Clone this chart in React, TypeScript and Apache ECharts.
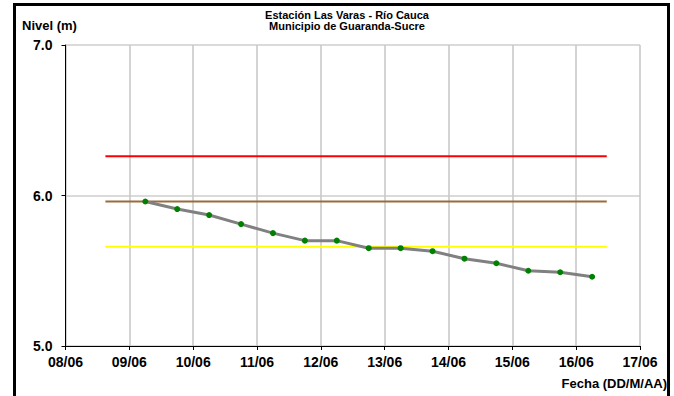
import React, { useEffect, useRef } from "react";
import * as echarts from "echarts";

const xTickLabels = ["08/06", "09/06", "10/06", "11/06", "12/06", "13/06", "14/06", "15/06", "16/06", "17/06"];
const yTicks = [5, 6, 7];

const obsTimes = [
  "09/06 06:00", "09/06 18:00", "10/06 06:00", "10/06 18:00", "11/06 06:00",
  "11/06 18:00", "12/06 06:00", "12/06 18:00", "13/06 06:00", "13/06 18:00",
  "14/06 06:00", "14/06 18:00", "15/06 06:00", "15/06 18:00", "16/06 06:00",
];
const levels = [5.96, 5.91, 5.87, 5.81, 5.75, 5.7, 5.7, 5.65, 5.65, 5.63, 5.58, 5.55, 5.5, 5.49, 5.46];

const thresholdNames = ["Roja", "Naranja", "Amarilla"];
const thresholdValues = [6.26, 5.96, 5.66];
const thresholdColors = ["#ff0000", "#9c6b3c", "#ffff00"];
const thresholdSpan = ["08/06 15:00", "16/06 11:30"];

const titleLines = ["Estación Las Varas - Río Cauca", "Municipio de Guaranda-Sucre"];
const yName = "Nivel (m)";
const xName = "Fecha (DD/M/AA)";

const FONT = "'Liberation Sans', Arial, sans-serif";

function toDay(s: string): number {
  const [d, t] = s.split(" ");
  const day = parseInt(d.split("/")[0], 10) - 8;
  const [h, m] = t.split(":").map(Number);
  return day + (h + m / 60) / 24;
}

export default function App() {
  const ref = useRef<HTMLDivElement>(null);
  useEffect(() => {
    if (!ref.current) return;
    const chart = echarts.init(ref.current, null, { renderer: "svg" });
    const thresholdSeries = thresholdValues.map((v, i) => ({
      name: thresholdNames[i],
      type: "line",
      data: thresholdSpan.map((t) => [toDay(t), v]),
      symbol: "none",
      lineStyle: { color: thresholdColors[i], width: 2 },
      z: 2,
    }));
    chart.setOption({
      animation: false,
      backgroundColor: "#ffffff",
      textStyle: { fontFamily: FONT },
      grid: { left: 65.5, right: 34, top: 45, bottom: 50, containLabel: false },
      xAxis: {
        type: "value",
        min: 0,
        max: xTickLabels.length - 1,
        interval: 1,
        axisLine: { show: true, onZero: false, lineStyle: { color: "#000", width: 1 } },
        axisTick: { show: true, length: 4, lineStyle: { color: "#000" } },
        axisLabel: {
          formatter: (v: number) => xTickLabels[Math.round(v)] ?? "",
          fontSize: 14,
          fontWeight: "bold",
          color: "#000",
          margin: 9,
          fontFamily: FONT,
        },
        splitLine: { show: true, lineStyle: { color: "#c6c6c6", width: 1.5 } },
      },
      yAxis: {
        type: "value",
        min: yTicks[0],
        max: yTicks[yTicks.length - 1],
        interval: 1,
        axisLine: { show: true, lineStyle: { color: "#000", width: 1 } },
        axisTick: { show: true, length: 4, lineStyle: { color: "#000" } },
        axisLabel: {
          formatter: (v: number) => v.toFixed(1),
          fontSize: 14,
          fontWeight: "bold",
          color: "#000",
          margin: 13,
          fontFamily: FONT,
        },
        splitLine: { show: true, lineStyle: { color: "#dadada", width: 2 } },
      },
      series: [
        ...thresholdSeries,
        {
          name: "Nivel",
          type: "line",
          data: obsTimes.map((t, i) => [toDay(t), levels[i]]),
          symbol: "circle",
          symbolSize: 6,
          itemStyle: { color: "#008000", borderWidth: 0 },
          lineStyle: { color: "#808080", width: 3 },
          z: 3,
        },
      ],
      graphic: [
        {
          type: "rect",
          shape: { x: 14.5, y: 4.5, width: 654, height: 400 },
          style: { fill: "none", stroke: "#000", lineWidth: 3 },
          silent: true,
        },
        {
          type: "text",
          x: 347,
          y: 15,
          style: {
            text: titleLines[0],
            fontSize: 11,
            fontWeight: "bold",
            fontFamily: FONT,
            fill: "#000",
            textAlign: "center",
            textVerticalAlign: "middle",
          },
        },
        {
          type: "text",
          x: 347,
          y: 26,
          style: {
            text: titleLines[1],
            fontSize: 11,
            fontWeight: "bold",
            fontFamily: FONT,
            fill: "#000",
            textAlign: "center",
            textVerticalAlign: "middle",
          },
        },
        {
          type: "text",
          x: 22,
          y: 25,
          style: {
            text: yName,
            fontSize: 13,
            fontWeight: "bold",
            fontFamily: FONT,
            fill: "#000",
            textAlign: "left",
            textVerticalAlign: "middle",
          },
        },
        {
          type: "text",
          x: 667,
          y: 383,
          style: {
            text: xName,
            fontSize: 13,
            fontWeight: "bold",
            fontFamily: FONT,
            fill: "#000",
            textAlign: "right",
            textVerticalAlign: "middle",
          },
        },
      ],
    });
    return () => chart.dispose();
  }, []);
  return (
    <div
      ref={ref}
      style={{ position: "fixed", left: 0, top: 0, width: 674, height: 396, background: "#fff" }}
    />
  );
}
